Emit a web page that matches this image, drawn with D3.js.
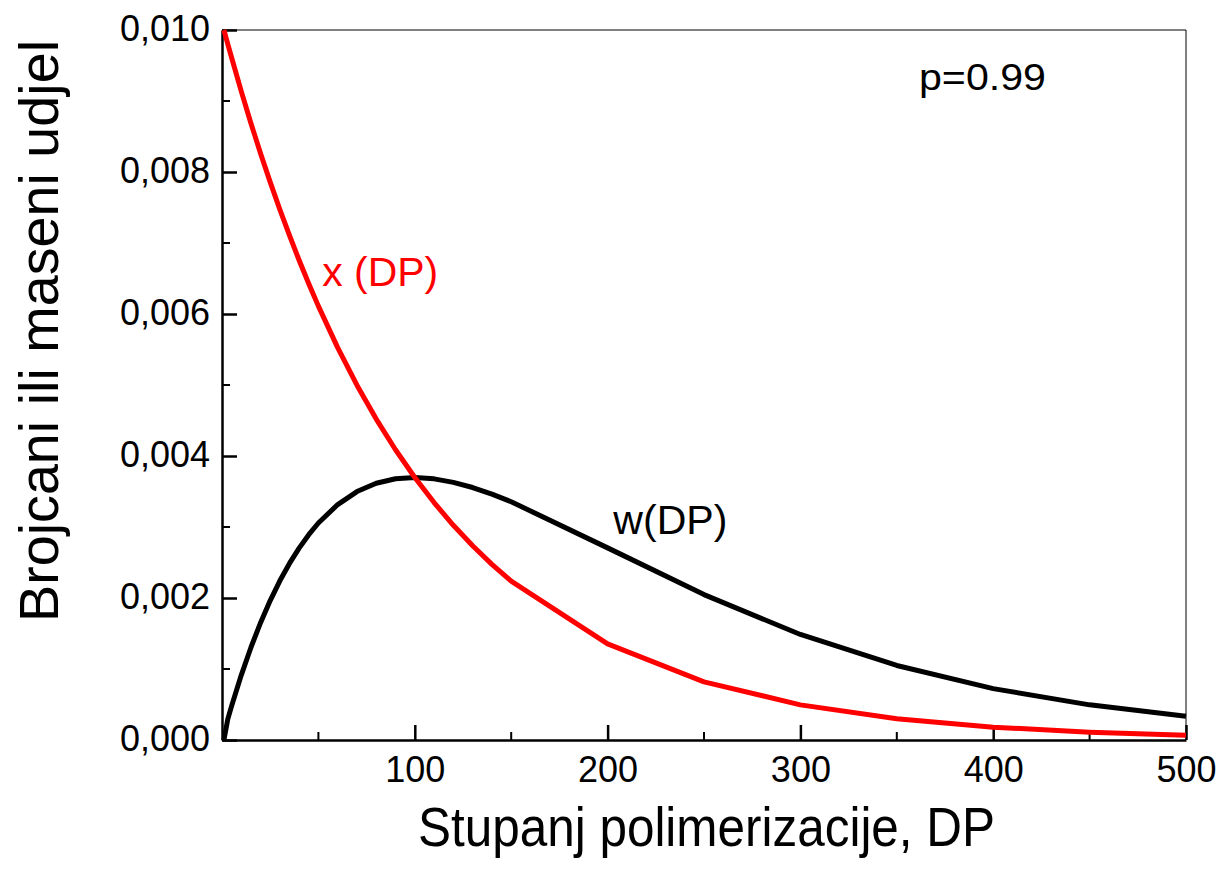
<!DOCTYPE html>
<html>
<head>
<meta charset="utf-8">
<script src="https://cdn.jsdelivr.net/npm/d3@7"></script>
<style>
  body { margin: 0; background: #fff; }
  svg { font-family: "Liberation Sans", Arial, sans-serif; }
</style>
</head>
<body>
<div class="chart"></div>
<script>
// Degree of polymerization (DP) sample points
const dp = [1, 3, 5, 10, 15, 20, 25, 30, 35, 40, 45, 50, 60, 70, 80, 90, 100, 110, 120, 130, 140, 150,
  200, 250, 300, 350, 400, 450, 500]

// Number fraction x(DP)
const xFraction = [0.01, 0.0098, 0.00961, 0.009135, 0.008687, 0.008262, 0.007857, 0.007472,
  0.007106, 0.006757, 0.006426, 0.006111, 0.005527, 0.004998, 0.00452, 0.004088, 0.003697,
  0.003344, 0.003024, 0.002735, 0.002473, 0.002237, 0.001353, 0.000819, 0.000495, 0.0003,
  0.000181, 0.00011, 0.0000666]

// Weight fraction w(DP)
const wFraction = [0.000001, 0.000294, 0.00048, 0.000914, 0.001303, 0.001652, 0.001964, 0.002242,
  0.002487, 0.002703, 0.002892, 0.003056, 0.003316, 0.003499, 0.003616, 0.003679, 0.003697,
  0.003678, 0.003629, 0.003556, 0.003462, 0.003356, 0.002706, 0.002048, 0.001486, 0.00105,
  0.000724, 0.000495, 0.000333]

const xTicks = [100, 200, 300, 400, 500]
const xMinor = [50, 150, 250, 350, 450]
const yTicks = [0, 0.002, 0.004, 0.006, 0.008, 0.010]
const yMinor = [0.001, 0.003, 0.005, 0.007, 0.009]

const width = 1223
const height = 869
const margin = { top: 30, right: 37, bottom: 129, left: 222 }
const innerWidth = width - margin.left - margin.right
const innerHeight = height - margin.top - margin.bottom

const svg = d3.select('.chart')
  .append('svg')
  .attr('width', width)
  .attr('height', height)

const g = svg.append('g')
  .attr('transform', `translate(${margin.left},${margin.top})`)

const x = d3.scaleLinear().domain([0, 500]).range([0, innerWidth])
const y = d3.scaleLinear().domain([0, 0.010]).range([innerHeight, 0])

// frame: thin top and right
g.append('line')
  .attr('x1', 0).attr('x2', innerWidth).attr('y1', 0).attr('y2', 0)
  .attr('stroke', '#000').attr('stroke-width', 1)
g.append('line')
  .attr('x1', innerWidth).attr('x2', innerWidth).attr('y1', 0).attr('y2', innerHeight)
  .attr('stroke', '#000').attr('stroke-width', 1)

// bottom axis, ticks pointing inward
const xAxis = g.append('g')
  .attr('class', 'axis axis--x')
  .attr('transform', `translate(0,${innerHeight})`)
  .call(d3.axisBottom(x).tickValues(xTicks).tickSize(-15).tickPadding(16).tickSizeOuter(0))
xAxis.append('g').selectAll('line')
  .data(xMinor)
  .join('line')
  .attr('x1', d => x(d)).attr('x2', d => x(d))
  .attr('y1', 0).attr('y2', -8)
  .attr('stroke', '#000').attr('stroke-width', 2)

// left axis
const yAxis = g.append('g')
  .attr('class', 'axis axis--y')
  .call(d3.axisLeft(y).tickValues(yTicks).tickSize(-15).tickPadding(12).tickSizeOuter(0)
    .tickFormat(d => d3.format('.3f')(d).replace('.', ',')))
yAxis.append('g').selectAll('line')
  .data(yMinor)
  .join('line')
  .attr('x1', 0).attr('x2', 8)
  .attr('y1', d => y(d)).attr('y2', d => y(d))
  .attr('stroke', '#000').attr('stroke-width', 2)

svg.selectAll('.axis .domain').attr('stroke-width', 2.5)
svg.selectAll('.axis .tick line').attr('stroke-width', 2.5)
svg.selectAll('.axis text')
  .attr('font-size', 36)
  .attr('font-family', '"Liberation Sans", Arial, sans-serif')
  .attr('fill', '#000')
yAxis.selectAll('.tick text').attr('dy', '0.3em')
xAxis.selectAll('.tick text').attr('dy', '0.71em')

// curves
const line = (vals) => d3.line()
  .x((d, i) => x(dp[i]))
  .y(d => y(d))
  .curve(d3.curveLinear)(vals)

g.append('path')
  .attr('d', line(wFraction))
  .attr('fill', 'none')
  .attr('stroke', '#000')
  .attr('stroke-width', 5)
  .attr('stroke-linejoin', 'round')

g.append('path')
  .attr('d', line(xFraction))
  .attr('fill', 'none')
  .attr('stroke', '#ff0000')
  .attr('stroke-width', 5)
  .attr('stroke-linejoin', 'round')

// labels
g.append('text')
  .attr('x', x(52)).attr('y', y(0.00640))
  .attr('font-size', 40).attr('fill', '#ff0000')
  .attr('textLength', 116).attr('lengthAdjust', 'spacingAndGlyphs')
  .text('x (DP)')

g.append('text')
  .attr('x', x(203)).attr('y', y(0.00290))
  .attr('font-size', 40).attr('fill', '#000')
  .attr('textLength', 114).attr('lengthAdjust', 'spacingAndGlyphs')
  .text('w(DP)')

g.append('text')
  .attr('x', x(361.5)).attr('y', y(0.00915))
  .attr('font-size', 36).attr('fill', '#000')
  .attr('textLength', 127).attr('lengthAdjust', 'spacingAndGlyphs')
  .text('p=0.99')

// axis titles
svg.append('text')
  .attr('x', 418)
  .attr('y', 846)
  .attr('font-size', 56)
  .attr('textLength', 577).attr('lengthAdjust', 'spacingAndGlyphs')
  .text('Stupanj polimerizacije, DP')

svg.append('text')
  .attr('transform', `translate(58,622) rotate(-90)`)
  .attr('font-size', 56)
  .attr('textLength', 582).attr('lengthAdjust', 'spacingAndGlyphs')
  .text('Brojcani ili maseni udjel')
</script>
</body>
</html>
